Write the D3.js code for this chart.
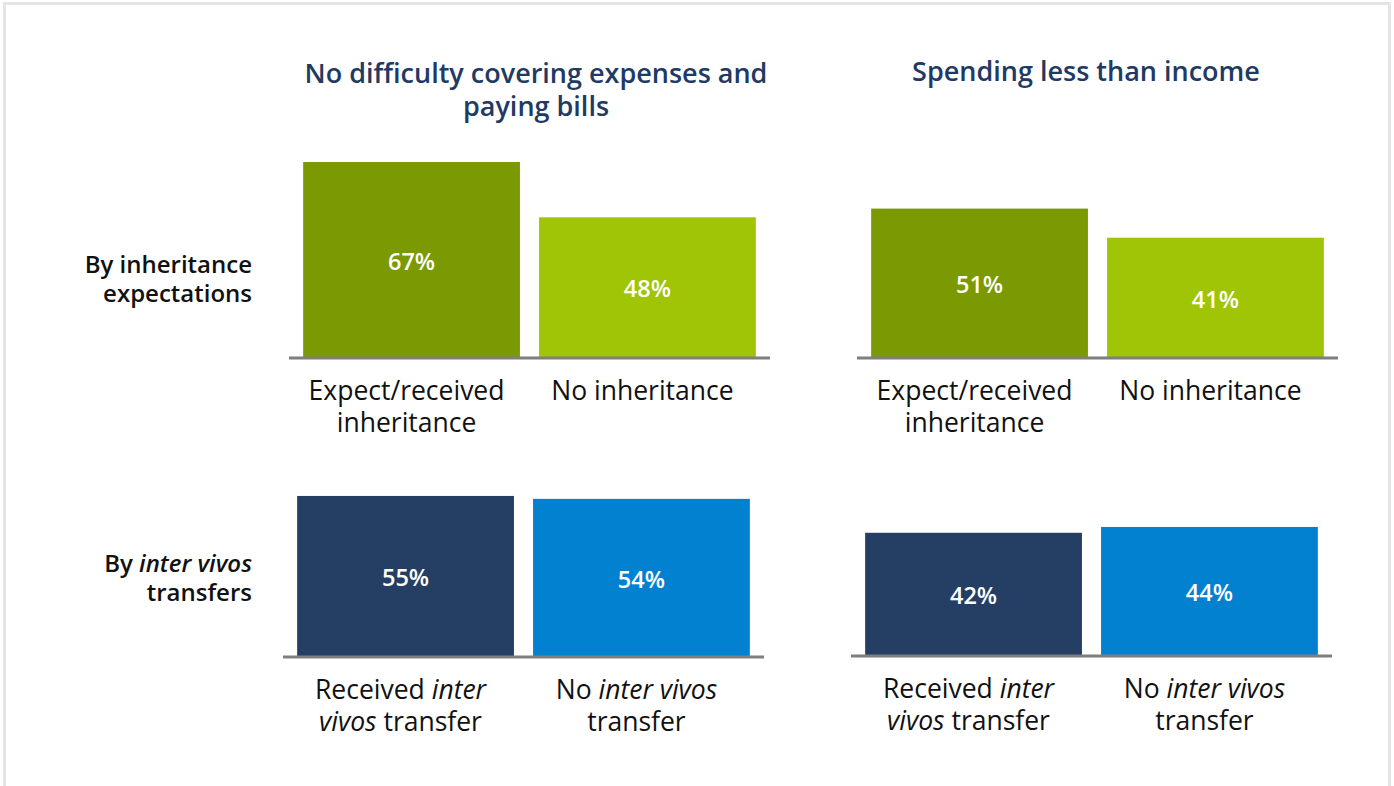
<!DOCTYPE html>
<html>
<head>
<meta charset="utf-8">
<script src="https://cdn.jsdelivr.net/npm/d3@7"></script>
<style>
  body { margin: 0; background: #fff; }
  svg { display: block; font-family: "Open Sans", sans-serif; }
</style>
</head>
<body>
<svg class="chart"></svg>
<script>
// text lines split with |, italic parts between *
let panelTitles = ["No difficulty covering expenses and|paying bills", "Spending less than income"];
let rowLabels = ["By inheritance|expectations", "By *inter vivos*|transfers"];

let inheritanceCategories = ["Expect/received|inheritance", "No inheritance"];
let transferCategories = ["Received *inter*|*vivos* transfer", "No *inter vivos*|transfer"];

let inheritanceNoDifficulty = [67, 48];
let inheritanceSpendingLess = [51, 41];
let transferNoDifficulty = [55, 54];
let transferSpendingLess = [42, 44];

let inheritanceColors = ["#7a9902", "#a0c406"];
let transferColors = ["#243e64", "#0281d1"];

let svgWidth = 1394, svgHeight = 786;
let panelWidth = 481;
let pxPerPct = 2.91;

let svg = d3.select('.chart')
    .attr("width", svgWidth)
    .attr("height", svgHeight);

// frame
svg.append("rect")
    .attr("x", 4.5).attr("y", 3.5)
    .attr("width", 1385).attr("height", 800)
    .attr("fill", "none")
    .attr("stroke", "#e4e4e4")
    .attr("stroke-width", 3);

// write a line that may hold *italic* parts
function richLine(textSel, line) {
    line.split("*").forEach(function (part, i) {
        if (part === "") return;
        textSel.append("tspan")
            .attr("font-style", i % 2 === 1 ? "italic" : "normal")
            .text(part);
    });
}

function multiLine(g, str, x, y, lineHeight, anchor) {
    str.split("|").forEach(function (line, i) {
        let t = g.append("text")
            .attr("x", x)
            .attr("y", y + i * lineHeight)
            .attr("text-anchor", anchor);
        richLine(t, line);
    });
}

// panel titles
let titles = svg.append("g")
    .attr("fill", "#213a63")
    .attr("font-size", "27px")
    .attr("font-weight", 600);
multiLine(titles, panelTitles[0], 536, 83, 33, "middle");
multiLine(titles, panelTitles[1], 1086, 81, 33, "middle");

// row labels
let rows = svg.append("g")
    .attr("fill", "#111")
    .attr("font-size", "24px")
    .attr("font-weight", 600);
multiLine(rows, rowLabels[0], 252, 273, 29, "end");
multiLine(rows, rowLabels[1], 252, 572, 29, "end");

function drawPanel(x0, baseY, values, categories, colors) {
    let g = svg.append("g");

    let x = d3.scaleBand()
        .domain(d3.range(values.length))
        .range([x0, x0 + panelWidth])
        .paddingInner(0.081)
        .paddingOuter(0.06);

    let y = d3.scaleLinear()
        .domain([0, 100])
        .range([baseY, baseY - 100 * pxPerPct]);

    g.selectAll("rect")
        .data(values)
        .enter()
        .append("rect")
        .attr("x", function (d, i) { return x(i); })
        .attr("y", function (d) { return y(d); })
        .attr("width", x.bandwidth())
        .attr("height", function (d) { return baseY - y(d); })
        .attr("fill", function (d, i) { return colors[i]; });

    g.selectAll(".value")
        .data(values)
        .enter()
        .append("text")
        .attr("class", "value")
        .attr("x", function (d, i) { return x(i) + x.bandwidth() / 2; })
        .attr("y", function (d) { return (y(d) + baseY) / 2 + 2; })
        .attr("dy", "0.35em")
        .attr("text-anchor", "middle")
        .attr("fill", "#fff")
        .attr("font-size", "23.5px")
        .attr("font-weight", 600)
        .text(function (d) { return d + "%"; });

    // baseline
    g.append("line")
        .attr("x1", x0).attr("x2", x0 + panelWidth)
        .attr("y1", baseY + 1).attr("y2", baseY + 1)
        .attr("stroke", "#7f7f7f")
        .attr("stroke-width", 3);

    let labels = g.append("g")
        .attr("fill", "#111")
        .attr("font-size", "26.5px");
    categories.forEach(function (c, i) {
        multiLine(labels, c, x(i) + x.bandwidth() / 2 - 5, baseY + 43, 32, "middle");
    });
}

drawPanel(289, 357, inheritanceNoDifficulty, inheritanceCategories, inheritanceColors);
drawPanel(857, 357, inheritanceSpendingLess, inheritanceCategories, inheritanceColors);
drawPanel(283, 656, transferNoDifficulty, transferCategories, transferColors);
drawPanel(851, 655, transferSpendingLess, transferCategories, transferColors);
</script>
</body>
</html>
